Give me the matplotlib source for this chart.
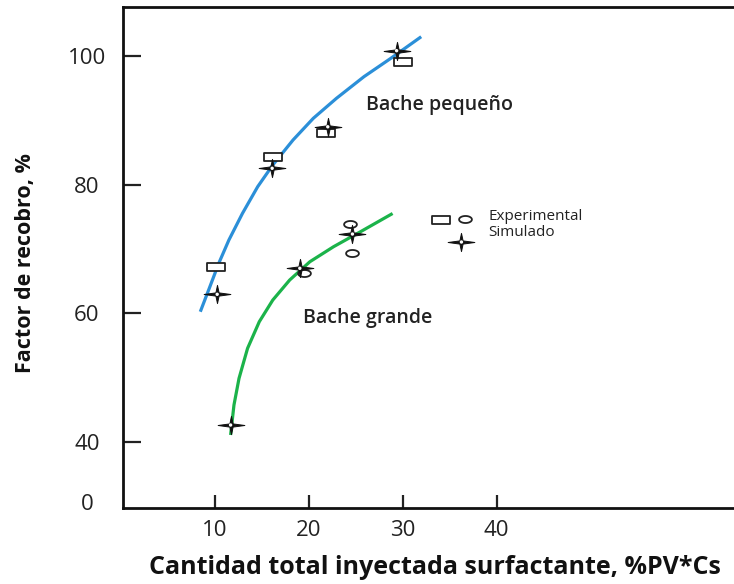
import matplotlib
matplotlib.use("Agg")
import matplotlib.pyplot as plt
from matplotlib.path import Path
import numpy as np

# points
pequeno_x = [8.42, 9.31, 10.39, 11.47, 12.92, 14.54, 16.15, 18.31, 20.47, 22.94, 25.87, 28.74, 31.97]
pequeno_y = [60.25, 63.63, 67.78, 71.40, 75.55, 79.69, 83.06, 86.95, 90.32, 93.43, 96.79, 99.65, 103.0]
grande_x = [11.65, 12.01, 12.55, 13.46, 14.71, 16.15, 17.95, 20.10, 22.63, 25.50, 28.92]
grande_y = [41.09, 45.75, 49.90, 54.56, 58.70, 62.07, 65.18, 68.02, 70.36, 72.69, 75.52]

# experimental points
exp_peq_x = [10.11, 16.22, 21.83, 30.07]
exp_peq_y = [67.15, 84.35, 88.0, 99.1]
exp_gra_x = [19.46, 24.42, 24.6]
exp_gra_y = [66.32, 73.84, 69.43]

# simulated points
sim_x = [10.22, 16.08, 22.01, 29.35, 11.65, 19.03, 24.64]
sim_y = [62.96, 82.55, 89.0, 100.83, 42.64, 67.0, 72.33]

ytick_vals = [30.7, 40, 60, 80, 100]
ytick_labels = ['0', '40', '60', '80', '100']
xtick_vals = [10, 20, 30, 40]

# marker shapes
rect = Path([(-1, -0.47), (1, -0.47), (1, 0.47), (-1, 0.47), (-1, -0.47)],
            [Path.MOVETO, Path.LINETO, Path.LINETO, Path.LINETO, Path.CLOSEPOLY])
t = np.linspace(0, 2 * np.pi, 40)
ellipse = Path(np.column_stack([np.cos(t), 0.55 * np.sin(t)]), closed=True)
s = 0.12
star = Path([(1, 0), (s, s), (0, 0.68), (-s, s), (-1, 0), (-s, -s), (0, -0.68), (s, -s), (1, 0)],
            [Path.MOVETO] + [Path.LINETO] * 7 + [Path.CLOSEPOLY])

plt.rcParams['font.family'] = ['Open Sans', 'DejaVu Sans']

fig = plt.figure(figsize=(7.34, 5.84), dpi=100)
ax = fig.add_axes([123 / 734, 1 - 508 / 584, 1 - 123 / 734 + 0.01, (508 - 7) / 584])

ax.plot(pequeno_x, pequeno_y, color='#2b8fd8', lw=2.3, solid_capstyle='butt', zorder=2)
ax.plot(grande_x, grande_y, color='#1bb34a', lw=2.3, solid_capstyle='butt', zorder=2)


def draw_star(xs, ys):
    ax.scatter(xs, ys, marker=star, s=370, facecolor='#111111', edgecolor='#111111',
               linewidths=0.7, zorder=4, clip_on=False)
    ax.scatter(xs, ys, marker='o', s=6, facecolor='white', edgecolor='none', zorder=5,
               clip_on=False)


ax.scatter(exp_peq_x, exp_peq_y, marker=rect, s=150, facecolor='white', edgecolor='#222222',
           linewidths=1.3, zorder=3)
ax.scatter(exp_gra_x, exp_gra_y, marker=ellipse, s=85, facecolor='white', edgecolor='#222222',
           linewidths=1.3, zorder=3)
draw_star(sim_x, sim_y)

# legend built from markers and text
ax.scatter([34.1], [74.5], marker=rect, s=150, facecolor='white', edgecolor='#222222',
           linewidths=1.3)
ax.scatter([36.69], [74.67], marker=ellipse, s=85, facecolor='white', edgecolor='#222222',
           linewidths=1.3)
draw_star([36.26], [71.09])
ax.text(39.17, 75.13, 'Experimental', fontsize=11, va='center', ha='left', color='#222222')
ax.text(39.17, 72.49, 'Simulado', fontsize=11, va='center', ha='left', color='#222222')

ax.text(26.11, 92.39, 'Bache pequeño', fontsize=14, fontweight='semibold', va='center',
        color='#222222')
ax.text(19.42, 59.28, 'Bache grande', fontsize=14, fontweight='semibold', va='center',
        color='#222222')

ax.set_xlim(0.18, 66.1)
ax.set_ylim(29.74, 107.62)

ax.set_xticks(xtick_vals)
ax.set_yticks(ytick_vals)
ax.set_yticklabels(ytick_labels)
ax.tick_params(axis='both', direction='in', width=1.6, labelsize=16, colors='#222222')
ax.tick_params(axis='x', length=9.5, pad=9)
ax.tick_params(axis='y', length=13, pad=26)
for lab in ax.get_yticklabels():
    lab.set_horizontalalignment('center')
ax.yaxis.get_major_ticks()[0].tick1line.set_visible(False)

for side in ['top', 'left', 'bottom']:
    ax.spines[side].set_linewidth(2.0)
    ax.spines[side].set_color('#111111')
ax.spines['right'].set_visible(False)

fig.text(435 / 734, 1 - 567 / 584, 'Cantidad total inyectada surfactante, %PV*Cs',
         fontsize=18, fontweight='bold', ha='center', va='center', color='#111111')
fig.text(25 / 734, 1 - 263 / 584, 'Factor de recobro, %', fontsize=15.5, fontweight='bold',
         rotation=90, ha='center', va='center', color='#111111')

fig.savefig('out.png', dpi=100)
